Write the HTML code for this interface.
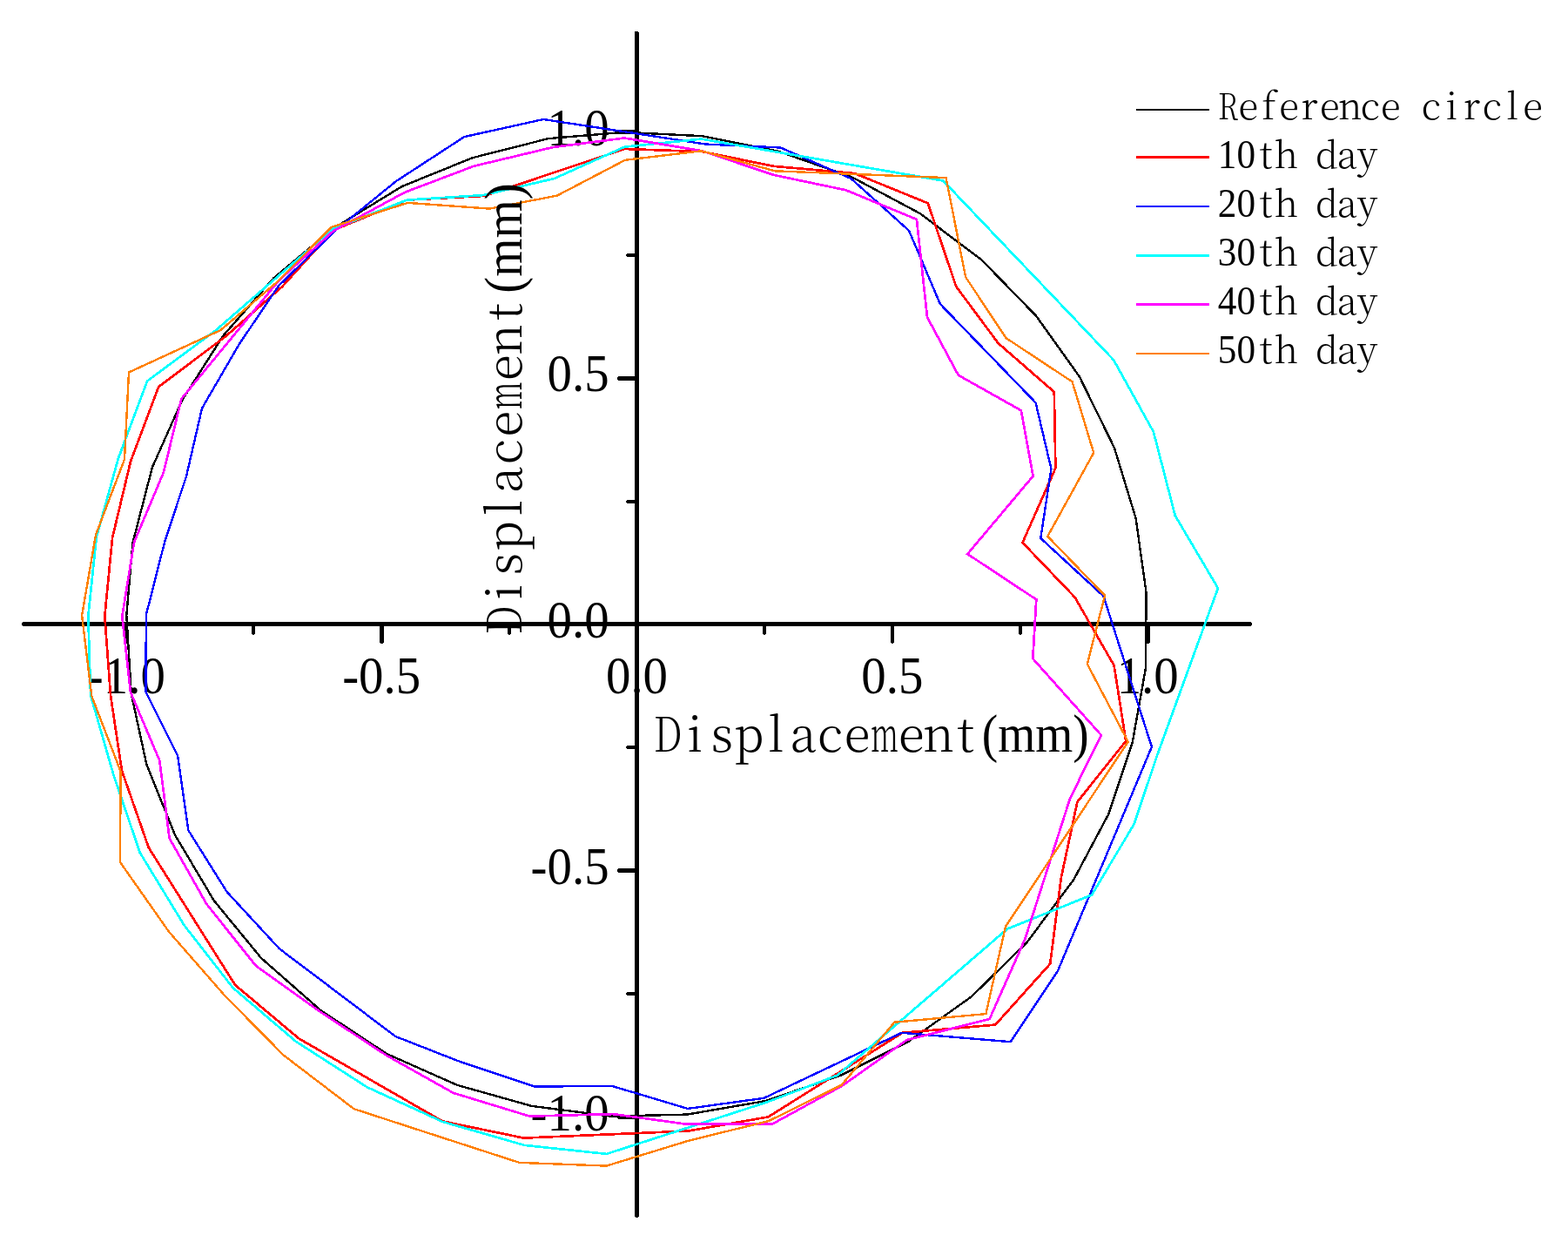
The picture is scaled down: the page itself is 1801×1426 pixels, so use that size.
<!DOCTYPE html>
<html lang="en"><head><meta charset="utf-8"><title>Displacement</title>
<style>
html,body{margin:0;padding:0;background:#fff;}
body{width:1801px;height:1426px;overflow:hidden;}
svg{display:block;}
.num{font-family:"Liberation Serif","Times New Roman",serif;fill:#000;}
.sim{font-family:"Noto Serif CJK SC","Liberation Serif",serif;font-weight:300;fill:#000;text-anchor:middle;}
.sim .n{font-family:"Liberation Serif","Times New Roman",serif;font-weight:400;text-anchor:start;}
.crv{fill:none;stroke-linejoin:miter;stroke-linecap:butt;}
</style></head><body>
<svg width="1801" height="1426" viewBox="0 0 1801 1426" role="img" aria-label="Displacement(mm) versus Displacement(mm): Reference circle, 10th day, 20th day, 30th day, 40th day, 50th day">
<rect x="0" y="0" width="1801" height="1426" fill="#ffffff"/>

<g class="num" font-size="60.6">
<text transform="translate(144.83,796.3) scale(0.938,1)" text-anchor="middle">-1.0</text>
<text transform="translate(438.17,796.3) scale(0.938,1)" text-anchor="middle">-0.5</text>
<text transform="translate(731.50,796.3) scale(0.938,1)" text-anchor="middle">0.0</text>
<text transform="translate(1024.84,796.3) scale(0.938,1)" text-anchor="middle">0.5</text>
<text transform="translate(1318.17,796.3) scale(0.938,1)" text-anchor="middle">1.0</text>
<text transform="translate(699.6,1297.62) scale(0.938,1)" text-anchor="end">-1.0</text>
<text transform="translate(699.6,1014.91) scale(0.938,1)" text-anchor="end">-0.5</text>
<text transform="translate(699.6,732.20) scale(0.938,1)" text-anchor="end">0.0</text>
<text transform="translate(699.6,449.49) scale(0.938,1)" text-anchor="end">0.5</text>
<text transform="translate(699.6,166.78) scale(0.938,1)" text-anchor="end">1.0</text>
</g>
<g fill="#000" shape-rendering="crispEdges">
<rect x="26" y="714" width="1411" height="5"/><rect x="25" y="715" width="1" height="3"/><rect x="1437" y="715" width="1" height="3"/>
<rect x="729" y="37" width="5" height="1360"/><rect x="729" y="36" width="4" height="1"/><rect x="730" y="1397" width="3" height="1"/>
<rect x="142" y="719" width="5" height="19"/><rect x="143" y="738" width="3" height="1"/>
<rect x="710" y="1280" width="19" height="5"/><rect x="709" y="1281" width="1" height="3"/>
<rect x="289" y="719" width="4" height="9"/><rect x="290" y="728" width="2" height="1"/>
<rect x="720" y="1139" width="9" height="4"/><rect x="719" y="1140" width="1" height="2"/>
<rect x="436" y="719" width="5" height="19"/><rect x="437" y="738" width="3" height="1"/>
<rect x="710" y="997" width="19" height="5"/><rect x="709" y="998" width="1" height="3"/>
<rect x="583" y="719" width="4" height="9"/><rect x="584" y="728" width="2" height="1"/>
<rect x="720" y="856" width="9" height="4"/><rect x="719" y="857" width="1" height="2"/>
<rect x="876" y="719" width="4" height="9"/><rect x="877" y="728" width="2" height="1"/>
<rect x="720" y="574" width="9" height="4"/><rect x="719" y="575" width="1" height="2"/>
<rect x="1023" y="719" width="4" height="19"/><rect x="1024" y="738" width="2" height="1"/>
<rect x="710" y="432" width="19" height="5"/><rect x="709" y="433" width="1" height="3"/>
<rect x="1170" y="719" width="4" height="9"/><rect x="1171" y="728" width="2" height="1"/>
<rect x="720" y="291" width="9" height="4"/><rect x="719" y="292" width="1" height="2"/>
<rect x="1316" y="719" width="5" height="19"/><rect x="1317" y="738" width="3" height="1"/>
<rect x="710" y="149" width="19" height="5"/><rect x="709" y="150" width="1" height="3"/>
</g>
<g class="crv" shape-rendering="crispEdges">
<polyline points="717.0,151.8 806.7,156.2 894.6,173.9 978.3,203.3 1056.6,245.0 1127.4,298.3 1189.9,362.5 1239.9,432.5 1279.9,514.1 1304.6,595.0 1316.6,680.8 1315.8,767.9 1300.7,852.5 1273.2,934.9 1233.3,1009.9 1179.0,1082.6 1115.9,1144.2 1043.7,1195.7 964.9,1235.0 879.1,1264.1 789.2,1279.6 701.6,1281.6 610.8,1269.9 525.0,1245.8 444.1,1209.9 368.3,1160.0 300.0,1100.0 245.8,1034.1 200.8,958.3 168.3,877.5 150.8,796.6 145.3,706.6 152.5,623.2 174.9,536.6 209.3,459.3 256.3,385.5 314.3,319.4 382.2,262.7 461.6,214.1 542.4,181.3 629.9,159.1 717.0,151.8 806.7,156.2" stroke="#000000" stroke-width="2.4"/>
<polyline points="717.6,171.0 806.6,174.1 888.2,190.8 981.7,199.1 1065.8,233.3 1098.3,329.1 1146.6,394.1 1210.8,450.0 1212.4,537.4 1174.5,623.0 1234.6,685.8 1279.6,764.1 1293.2,850.8 1237.4,920.8 1218.9,1007.4 1206.2,1106.6 1143.3,1176.6 1036.5,1185.8 962.5,1232.2 882.4,1282.4 790.0,1298.6 700.0,1302.4 601.6,1306.6 508.3,1287.4 426.6,1240.4 343.3,1192.4 270.0,1130.8 221.1,1053.2 170.8,973.3 140.0,885.0 127.0,798.3 120.3,707.5 129.1,617.4 150.0,529.9 182.1,444.2 259.1,386.3 324.1,329.1 383.2,264.1 467.5,229.6 556.6,224.9 636.6,198.0 717.6,171.0 806.6,174.1" stroke="#ff0000" stroke-width="2.7"/>
<polyline points="716.9,151.2 810.0,165.5 896.6,169.5 977.5,205.0 1044.1,264.9 1079.9,349.1 1134.5,405.4 1189.6,462.4 1207.4,538.2 1195.3,618.0 1267.4,684.4 1293.6,766.0 1322.9,857.5 1287.7,941.5 1252.7,1024.9 1214.9,1114.9 1160.8,1196.2 1035.7,1185.8 958.2,1222.5 877.4,1260.8 790.0,1272.9 703.2,1247.0 614.1,1247.5 525.8,1218.0 454.1,1189.9 387.7,1139.7 320.8,1089.2 260.7,1024.1 216.3,953.3 204.1,867.4 167.4,794.1 167.9,705.8 189.1,622.4 214.1,546.6 232.1,468.6 274.9,394.9 319.9,328.3 384.9,265.0 454.6,208.3 533.3,157.1 624.1,137.0 716.9,151.2 810.0,165.5" stroke="#0000ff" stroke-width="2.4"/>
<polyline points="717.6,168.6 805.8,159.6 894.3,174.9 985.3,190.6 1083.3,207.5 1149.5,277.1 1213.5,344.3 1279.1,413.3 1324.9,495.8 1349.8,592.1 1399.0,675.3 1363.7,772.1 1329.9,865.0 1302.4,946.6 1254.0,1027.5 1156.9,1066.6 1094.5,1120.4 1030.5,1175.5 961.9,1234.6 879.9,1265.8 792.4,1294.0 696.6,1324.9 602.4,1314.9 508.3,1287.9 421.6,1248.2 339.9,1195.8 267.5,1134.1 211.6,1062.4 160.8,979.1 130.5,890.0 104.1,798.3 101.3,707.5 110.8,616.6 135.8,526.6 169.1,437.5 247.4,379.6 315.5,320.5 381.5,263.3 467.5,229.6 554.9,224.1 636.6,205.0 717.6,168.6 805.8,159.6" stroke="#00ffff" stroke-width="2.7"/>
<polyline points="717.2,158.5 806.6,173.3 888.2,200.8 971.7,218.3 1052.9,251.9 1065.0,364.2 1100.8,430.8 1172.9,471.3 1186.6,546.6 1111.3,636.1 1190.3,688.3 1186.3,756.2 1264.9,844.1 1229.1,916.6 1203.7,995.9 1177.4,1078.0 1136.6,1169.9 1041.5,1194.1 967.4,1246.6 886.6,1290.8 789.2,1290.8 704.1,1279.1 608.3,1281.6 520.8,1254.9 444.1,1211.9 366.6,1160.9 294.1,1109.1 237.4,1038.2 194.6,962.4 183.3,873.2 150.0,794.9 140.3,707.5 154.1,622.4 187.9,542.4 208.3,458.0 263.8,390.7 320.7,321.6 383.2,265.0 465.0,220.8 544.1,190.8 634.9,169.1 717.2,158.5 806.6,173.3" stroke="#ff00ff" stroke-width="2.7"/>
<polyline points="718.0,183.8 805.8,173.3 889.9,196.3 980.8,199.9 1086.6,204.1 1109.1,318.2 1155.8,388.3 1231.6,438.3 1256.2,519.9 1203.3,615.8 1269.1,683.8 1248.8,762.4 1295.7,851.6 1247.0,925.1 1201.1,994.4 1154.9,1064.1 1132.4,1164.1 1027.4,1173.7 966.6,1245.8 883.3,1286.9 788.9,1310.3 696.6,1338.6 596.6,1334.9 503.2,1304.6 406.6,1273.2 325.8,1211.6 258.3,1143.3 194.1,1069.9 138.0,989.9 138.6,885.8 105.3,799.1 94.1,706.6 110.0,614.1 143.0,527.4 148.0,427.5 253.3,379.1 317.9,324.1 380.7,260.8 468.3,232.9 562.4,239.6 639.9,224.6 718.0,183.8 805.8,173.3" stroke="#ff8000" stroke-width="2.4"/>
</g>
<text class="sim" font-size="55" transform="translate(751.5,863)"><tspan x="15.55 46.65 77.75 108.85 139.95 171.05 202.15 233.25 264.35 295.45 326.55 357.65"><tspan textLength="0.597em" lengthAdjust="spacingAndGlyphs">D</tspan>isplace<tspan textLength="0.580em" lengthAdjust="spacingAndGlyphs">m</tspan>ent</tspan><tspan class="n" x="376.30" font-size="61.5" textLength="122.85" lengthAdjust="spacingAndGlyphs">(mm)</tspan></text>
<text class="sim" font-size="55" transform="translate(598.5,728) rotate(-90)"><tspan x="16.10 48.30 80.50 112.70 144.90 177.10 209.30 241.50 273.70 305.90 338.10 370.30"><tspan textLength="0.597em" lengthAdjust="spacingAndGlyphs">D</tspan>isplace<tspan textLength="0.580em" lengthAdjust="spacingAndGlyphs">m</tspan>ent</tspan><tspan class="n" x="391.20" font-size="61.5" textLength="126.40" lengthAdjust="spacingAndGlyphs">(mm)</tspan></text>
<g shape-rendering="crispEdges">
<line x1="1305" y1="126" x2="1389" y2="126" stroke="#000000" stroke-width="2"/>
<line x1="1305" y1="180.5" x2="1389" y2="180.5" stroke="#ff0000" stroke-width="3"/>
<line x1="1305" y1="237" x2="1389" y2="237" stroke="#0000ff" stroke-width="2"/>
<line x1="1305" y1="293.5" x2="1389" y2="293.5" stroke="#00ffff" stroke-width="3"/>
<line x1="1305" y1="349.5" x2="1389" y2="349.5" stroke="#ff00ff" stroke-width="3"/>
<line x1="1305" y1="406" x2="1389" y2="406" stroke="#ff8000" stroke-width="2"/>
</g>
<text class="sim" font-size="42" transform="translate(1399,137.4)"><tspan x="11.66 34.99 58.32 81.66 104.98 128.31 151.64 174.97 198.30 221.63 244.96 268.29 291.62 314.95 338.28 361.61"><tspan textLength="0.559em" lengthAdjust="spacingAndGlyphs">R</tspan>eference circle</tspan></text>
<text class="sim" font-size="42" transform="translate(1399,193.4)"><tspan class="n" x="-0.20" font-size="46.5" textLength="43.25" lengthAdjust="spacingAndGlyphs">10</tspan><tspan x="55.06 78.39 101.72 125.06 148.38 171.72">th day</tspan></text>
<text class="sim" font-size="42" transform="translate(1399,249.4)"><tspan class="n" x="-0.20" font-size="46.5" textLength="43.25" lengthAdjust="spacingAndGlyphs">20</tspan><tspan x="55.06 78.39 101.72 125.06 148.38 171.72">th day</tspan></text>
<text class="sim" font-size="42" transform="translate(1399,305.4)"><tspan class="n" x="-0.20" font-size="46.5" textLength="43.25" lengthAdjust="spacingAndGlyphs">30</tspan><tspan x="55.06 78.39 101.72 125.06 148.38 171.72">th day</tspan></text>
<text class="sim" font-size="42" transform="translate(1399,361.4)"><tspan class="n" x="-0.20" font-size="46.5" textLength="43.25" lengthAdjust="spacingAndGlyphs">40</tspan><tspan x="55.06 78.39 101.72 125.06 148.38 171.72">th day</tspan></text>
<text class="sim" font-size="42" transform="translate(1399,417.4)"><tspan class="n" x="-0.20" font-size="46.5" textLength="43.25" lengthAdjust="spacingAndGlyphs">50</tspan><tspan x="55.06 78.39 101.72 125.06 148.38 171.72">th day</tspan></text>
</svg>
</body></html>
